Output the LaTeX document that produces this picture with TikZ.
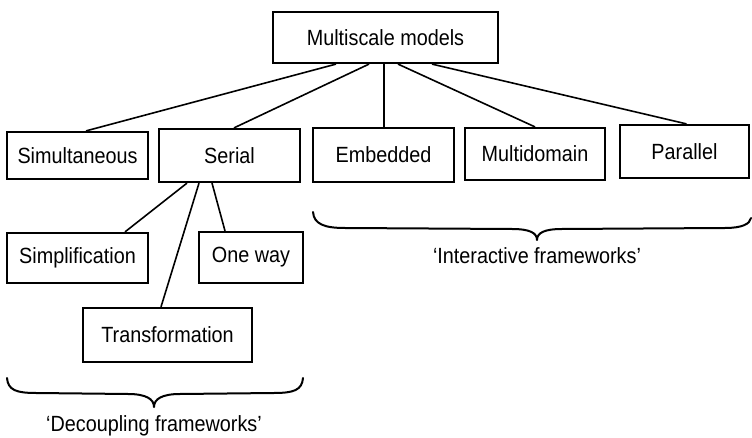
\documentclass[tikz,border=0pt]{standalone}
\usepackage{fontspec}
\setmainfont{Liberation Sans}
\newfontfamily\narrowsans[FakeStretch=0.9,Ligatures=TeX]{Liberation Sans}
\begin{document}
\begin{tikzpicture}[x=1pt,y=-1pt,
  box/.style={draw, line width=2.2pt, inner sep=0pt, font=\narrowsans\fontsize{22}{24}\selectfont},
  link/.style={line width=1.6pt},
  bracepath/.style={line width=2pt, line cap=round, line join=round},
  lbl/.style={inner sep=0pt, font=\narrowsans\fontsize{22}{24}\selectfont, anchor=base}]
\useasboundingbox (0,0) rectangle (752,438);
\node[box, minimum width=225pt, minimum height=51pt] (ms) at (385.5,37.5) {Multiscale models};
\node[box, minimum width=141pt, minimum height=47pt] (sim) at (77.5,155.5) {Simultaneous};
\node[box, minimum width=141pt, minimum height=53pt] (ser) at (229.5,155.5) {Serial};
\node[box, minimum width=141pt, minimum height=54pt] (emb) at (383.5,155) {Embedded};
\node[box, minimum width=140pt, minimum height=52pt] (mul) at (535,154) {Multidomain};
\node[box, minimum width=129pt, minimum height=53pt] (par) at (684.5,151.5) {Parallel};
\node[box, minimum width=141pt, minimum height=50pt] (simp) at (77.5,258) {Simplification};
\node[box, minimum width=104pt, minimum height=51pt] (one) at (251,257.5) {One way};
\node[box, minimum width=169pt, minimum height=54pt] (tra) at (167.5,335) {Transformation};

\draw[link] ([xshift=-49.5pt]ms.south) -- ([xshift=8.5pt]sim.north);
\draw[link] ([xshift=-16.5pt]ms.south) -- ([xshift=4.5pt]ser.north);
\draw[link] ([xshift=-1.5pt]ms.south) -- ([xshift=0.5pt]emb.north);
\draw[link] ([xshift=12.5pt]ms.south) -- (mul.north);
\draw[link] ([xshift=46.5pt]ms.south) -- ([xshift=2pt]par.north);

\draw[link] ([xshift=-42.5pt]ser.south) -- ([xshift=47.5pt]simp.north);
\draw[link] ([xshift=-30.5pt]ser.south) -- ([xshift=-6.5pt]tra.north);
\draw[link] ([xshift=-17.5pt]ser.south) -- ([xshift=-26pt]one.north);

% decoupling brace
\coordinate (dl) at (7,378);
\coordinate (dt) at (154,407);
\coordinate (dr) at (303,378);
\draw[bracepath] (dl) .. controls (8,390) and (16,393) .. (36,393) -- (128,394)
  .. controls (146,394) and (154,399) .. (dt)
  .. controls (154,399) and (162,394) .. (180,394) -- (274,393)
  .. controls (294,393) and (302,390) .. (dr);
\node[lbl] (dlab) at (154,431.5) {‘Decoupling frameworks’};

% interactive brace
\coordinate (il) at (313,212);
\coordinate (it) at (537,240);
\coordinate (ir) at (751,218);
\draw[bracepath] (il) .. controls (314,224) and (324,228) .. (345,228) -- (512,229)
  .. controls (530,229) and (537,233) .. (it)
  .. controls (537,233) and (544,229) .. (562,229) -- (725,228)
  .. controls (742,228) and (750,224) .. (ir);
\node[lbl] (ilab) at (537,264) {‘Interactive frameworks’};
\end{tikzpicture}
\end{document}
